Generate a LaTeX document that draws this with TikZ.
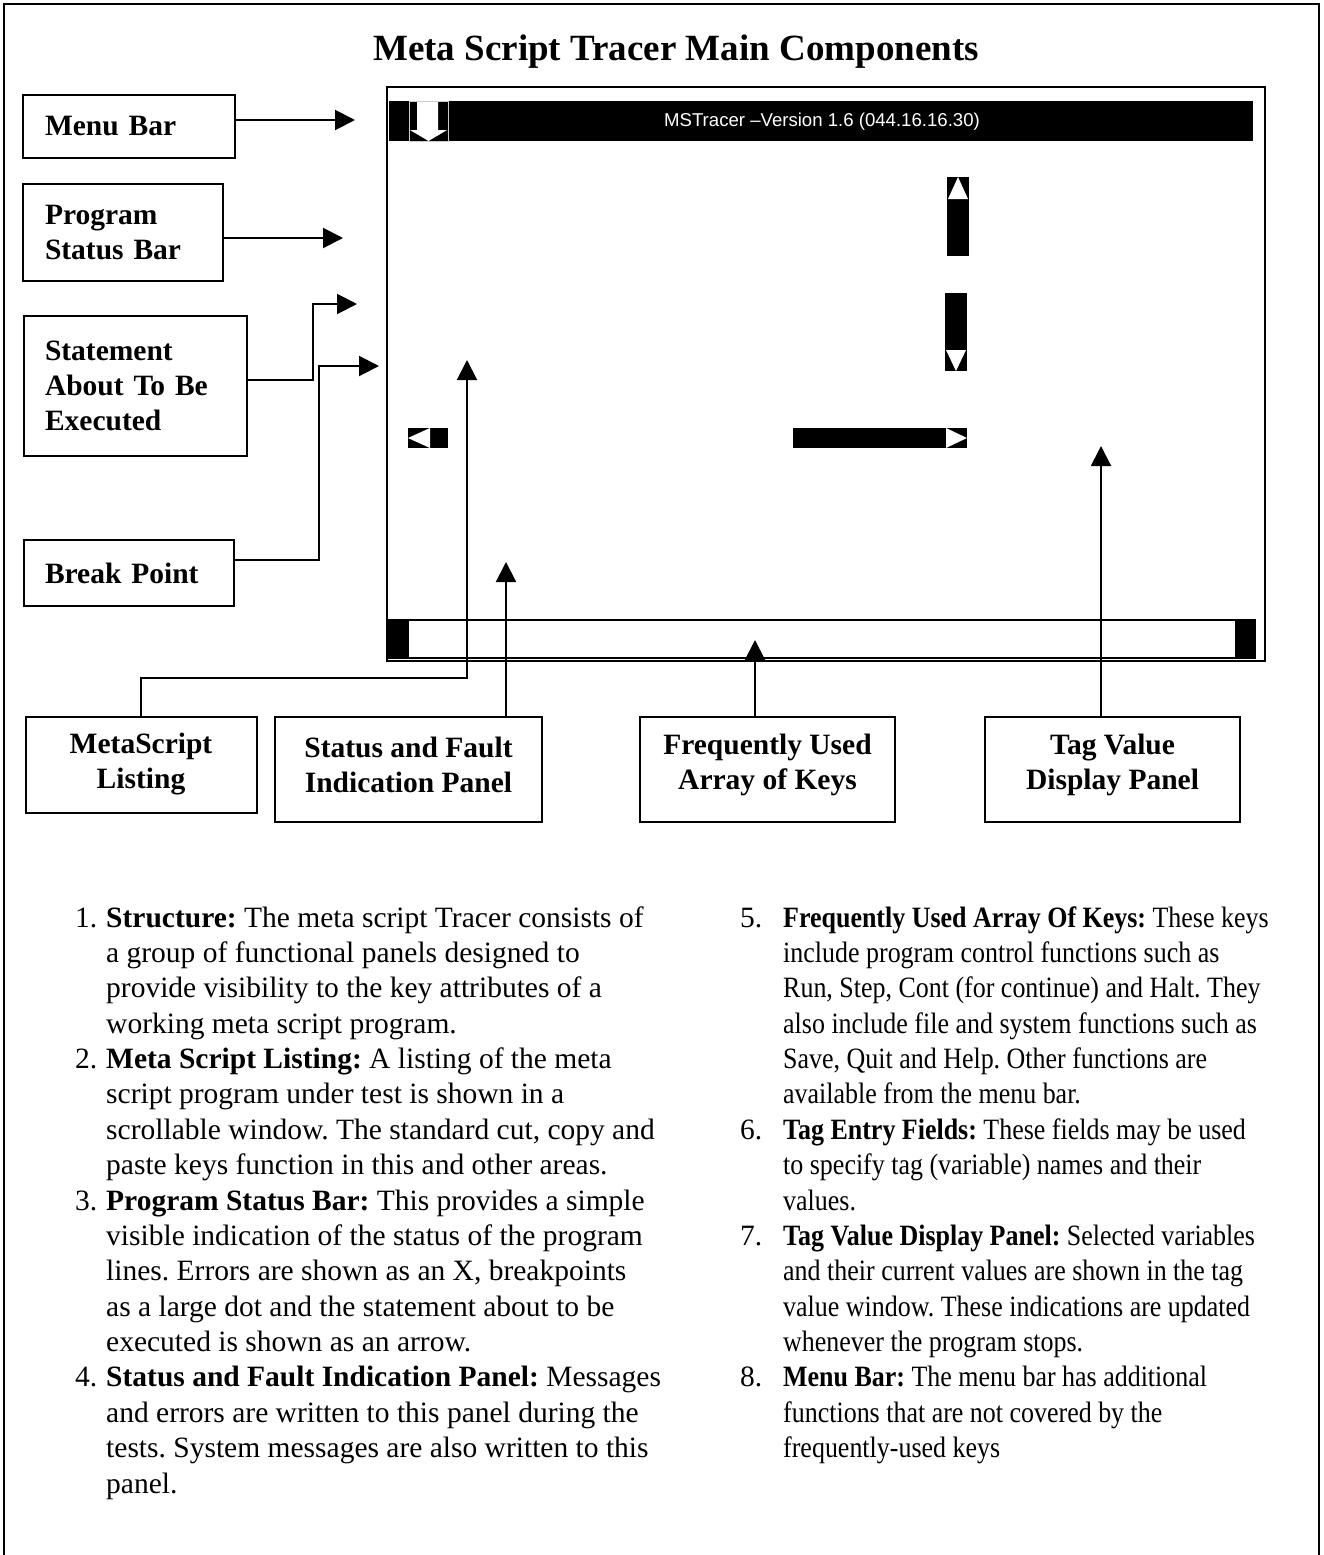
\documentclass[tikz,border=0pt]{standalone}
\usepackage{fontspec}
\usepackage{graphicx}
\setmainfont{Liberation Serif}
\newfontfamily\arialfont{Liberation Sans}
\usetikzlibrary{arrows.meta}
\frenchspacing
\newcommand{\rsq}[1]{\scalebox{0.88}[1]{#1}}
\begin{document}
\begin{tikzpicture}[x=1pt,y=-1pt,
  lbox/.style={draw, line width=2pt, inner sep=0pt, font=\fontsize{29.5}{35}\selectfont\bfseries},
  btxt/.style={inner sep=0pt, align=center, font=\fontsize{29.5}{35}\selectfont\bfseries},
  conn/.style={line width=2pt, -{Triangle[length=20pt,width=20pt]}},
  ltxt/.style={anchor=base west, inner sep=0pt, font=\fontsize{29.5}{35}\selectfont}]
\useasboundingbox (0,0) rectangle (1323,1555);
\fill[white] (0,0) rectangle (1323,1555);
% outer frame
\draw[line width=2pt] (4,1560) -- (4,4) -- (1319,4) -- (1319,1560);
% title
\node[anchor=base, inner sep=0pt, font=\fontsize{37}{44}\selectfont\bfseries] (title) at (676,60) {Meta Script Tracer Main Components};

% window
\draw[line width=2pt] (387,87) rectangle (1265,661);
\fill[black] (389,101) rectangle (1253,141);
\draw[line width=1pt, gray!40] (409,101) rectangle (448,141);
\fill[white] (417,102) -- (438,102) -- (438,130) -- (447,130) -- (428.5,141) -- (410,130) -- (417,130) -- cycle;
\node[anchor=base, inner sep=0pt, text=white, font=\arialfont\fontsize{18.6}{21}\selectfont] (mtitle) at (822,126) {MSTracer –Version 1.6 (044.16.16.30)};
% vertical scroll pieces
\fill[black] (947,177) rectangle (969,256);
\fill[white] (958,177) -- (968,199) -- (948,199) -- cycle;
\fill[black] (945,293) rectangle (967,371);
\fill[white] (946,350) -- (966,350) -- (956,371) -- cycle;
% horizontal scroll pieces
\fill[black] (408,428) rectangle (448,448);
\fill[white] (408,438) -- (430,428) -- (430,448) -- cycle;
\fill[black] (793,428) rectangle (967,448);
\fill[white] (946,428) -- (967,438) -- (946,448) -- cycle;
% bottom key bar
\draw[line width=1.5pt] (389,620) rectangle (1255,658);
\fill[black] (389,620) rectangle (409,658);
\fill[black] (1235,620) rectangle (1255,658);

% left label boxes
\node[lbox, minimum width=212, minimum height=63, text width=168, align=left] (menu) at (129,126.5) {Menu Bar};
\node[lbox, minimum width=200, minimum height=97, text width=156, align=left] (prog) at (123,232.5) {Program\\Status Bar};
\node[lbox, minimum width=223, minimum height=140, text width=181, align=left] (stmt) at (135.5,386) {Statement\\About To Be\\Executed};
\node[lbox, minimum width=210, minimum height=66, text width=168, align=left] (brk) at (129,573) {Break Point};
% bottom label boxes
\node[lbox, minimum width=231, minimum height=96] (list) at (141,765) {};
\node[lbox, minimum width=267, minimum height=105] (stat) at (408.5,769.5) {};
\node[lbox, minimum width=255, minimum height=105] (freq) at (767.5,769.5) {};
\node[lbox, minimum width=255, minimum height=105] (tag) at (1112.5,769.5) {};
\node[btxt] (listT) at (141,764.5) {MetaScript\\Listing};
\node[btxt] (statT) at (408.5,764.5) {Status and Fault\\Indication Panel};
\node[btxt] (freqT) at (767.5,764.5) {Frequently Used\\Array of Keys};
\node[btxt] (tagT) at (1112.5,764.5) {Tag Value\\Display Panel};

% connector targets and bends
\coordinate (tMenu) at (355,120);
\coordinate (tProg) at (343,238);
\coordinate (sStmt) at (251,380);
\coordinate (tStmt) at (357,304);
\coordinate (sBrk) at (234,560);
\coordinate (tBrk) at (379,366);
\coordinate (tList) at (467,360);
\coordinate (tStat) at (506,562);
\coordinate (tFreq) at (755,640);
\coordinate (tTag) at (1101,446);

\draw[conn] (menu.east |- tMenu) -- (tMenu);
\draw[conn] (prog.east |- tProg) -- (tProg);
\draw[conn] (stmt.east |- sStmt) -- (313,380) -- (313,304) -- (tStmt);
\draw[conn] (brk.east |- sBrk) -- (319,560) -- (319,366) -- (tBrk);
\draw[conn] (list.north) -- (141,678) -- (467,678) -- (tList);
\draw[conn] (stat.north -| tStat) -- (tStat);
\draw[conn] (freq.north -| tFreq) -- (tFreq);
\draw[conn] (tag.north -| tTag) -- (tTag);

% left column list
\node[ltxt] (n1) at (75,927) {1.};
\node[ltxt] (l1) at (106,927) {\textbf{Structure:} The meta script Tracer consists of};
\node[ltxt] (l2) at (106,962.4) {a group of functional panels designed to};
\node[ltxt] (l3) at (106,997.8) {provide visibility to the key attributes of a};
\node[ltxt] (l4) at (106,1033.1) {working meta script program.};
\node[ltxt] (n2) at (75,1068.5) {2.};
\node[ltxt] (l5) at (106,1068.5) {\textbf{Meta Script Listing:} A listing of the meta};
\node[ltxt] (l6) at (106,1103.9) {script program under test is shown in a};
\node[ltxt] (l7) at (106,1139.3) {scrollable window. The standard cut, copy and};
\node[ltxt] (l8) at (106,1174.6) {paste keys function in this and other areas.};
\node[ltxt] (n3) at (75,1210) {3.};
\node[ltxt] (l9) at (106,1210) {\textbf{Program Status Bar:} This provides a simple};
\node[ltxt] (l10) at (106,1245.4) {visible indication of the status of the program};
\node[ltxt] (l11) at (106,1280.8) {lines. Errors are shown as an X, breakpoints};
\node[ltxt] (l12) at (106,1316.1) {as a large dot and the statement about to be};
\node[ltxt] (l13) at (106,1351.5) {executed is shown as an arrow.};
\node[ltxt] (n4) at (75,1386.9) {4.};
\node[ltxt] (l14) at (106,1386.9) {\textbf{Status and Fault Indication Panel:} Messages};
\node[ltxt] (l15) at (106,1422.3) {and errors are written to this panel during the};
\node[ltxt] (l16) at (106,1457.6) {tests. System messages are also written to this};
\node[ltxt] (l17) at (106,1493) {panel.};

% right column list
\node[ltxt] (n5) at (740,927) {5.};
\node[ltxt] (r1) at (783,927) {\rsq{\textbf{Frequently Used Array Of Keys:} These keys}};
\node[ltxt] (r2) at (783,962.4) {\rsq{include program control functions such as}};
\node[ltxt] (r3) at (783,997.8) {\rsq{Run, Step, Cont (for continue) and Halt. They}};
\node[ltxt] (r4) at (783,1033.1) {\rsq{also include file and system functions such as}};
\node[ltxt] (r5) at (783,1068.5) {\rsq{Save, Quit and Help. Other functions are}};
\node[ltxt] (r6) at (783,1103.9) {\rsq{available from the menu bar.}};
\node[ltxt] (n6) at (740,1139.3) {6.};
\node[ltxt] (r7) at (783,1139.3) {\rsq{\textbf{Tag Entry Fields:} These fields may be used}};
\node[ltxt] (r8) at (783,1174.6) {\rsq{to specify tag (variable) names and their}};
\node[ltxt] (r9) at (783,1210) {\rsq{values.}};
\node[ltxt] (n7) at (740,1245.4) {7.};
\node[ltxt] (r10) at (783,1245.4) {\rsq{\textbf{Tag Value Display Panel:} Selected variables}};
\node[ltxt] (r11) at (783,1280.8) {\rsq{and their current values are shown in the tag}};
\node[ltxt] (r12) at (783,1316.1) {\rsq{value window. These indications are updated}};
\node[ltxt] (r13) at (783,1351.5) {\rsq{whenever the program stops.}};
\node[ltxt] (n8) at (740,1386.9) {8.};
\node[ltxt] (r14) at (783,1386.9) {\rsq{\textbf{Menu Bar:} The menu bar has additional}};
\node[ltxt] (r15) at (783,1422.3) {\rsq{functions that are not covered by the}};
\node[ltxt] (r16) at (783,1457.6) {\rsq{frequently-used keys}};
\end{tikzpicture}
\end{document}
